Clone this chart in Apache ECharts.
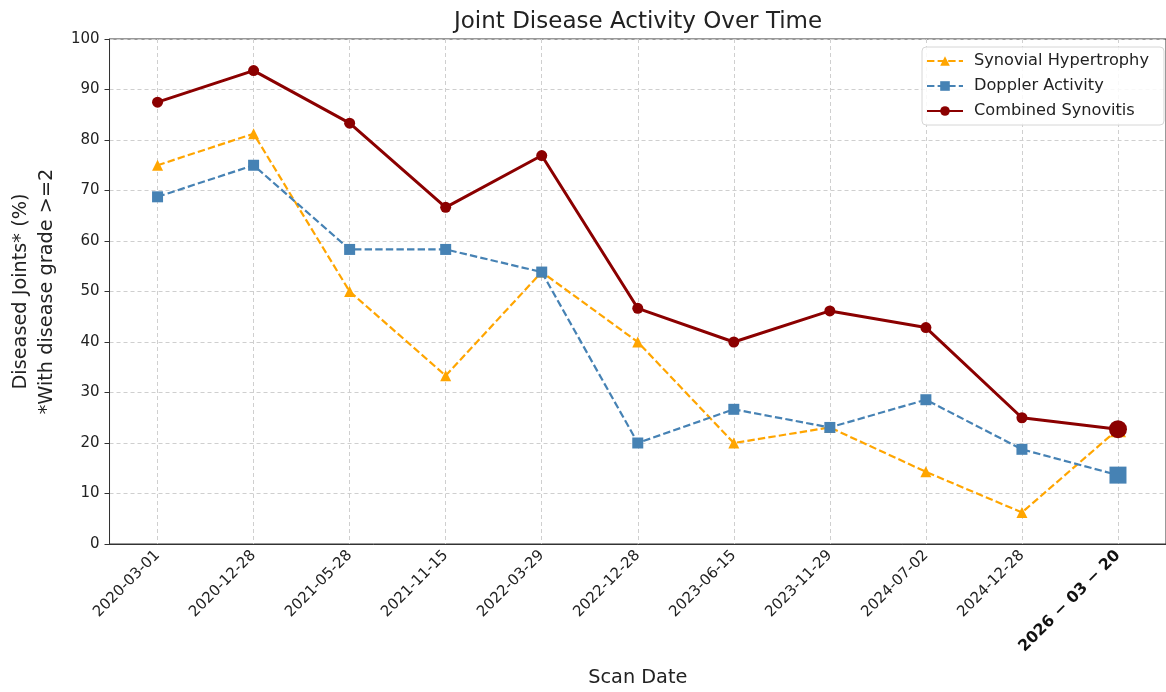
<!DOCTYPE html>
<html><head><meta charset="utf-8">
<script src="https://cdn.jsdelivr.net/npm/echarts@6/dist/echarts.min.js"></script>
<style>html,body{margin:0;padding:0;background:#fff}#c{width:1166px;height:692px}</style>
</head><body><div id="c"></div>
<script>
const categories = ['2020-03-01','2020-12-28','2021-05-28','2021-11-15','2022-03-29','2022-12-28','2023-06-15','2023-11-29','2024-07-02','2024-12-28','2026 − 03 − 20'];
const synovial = [75, 81.25, 50, 33.33, 53.85, 40, 20, 23.08, 14.29, 6.25, 22.73];
const doppler = [68.75, 75, 58.33, 58.33, 53.85, 20, 26.67, 23.08, 28.57, 18.75, 13.64];
const combined = [87.5, 93.75, 83.33, 66.67, 76.92, 46.67, 40, 46.15, 42.86, 25, 22.73];
const yTicks = [0,10,20,30,40,50,60,70,80,90,100];

const FONT = 'DejaVu Sans';
function withLast(arr, size) {
  return arr.map((v, i) => i === arr.length - 1 ? {value: v, symbolSize: size} : v);
}
const chart = echarts.init(document.getElementById('c'), null, {renderer: 'canvas'});
const last = categories.length - 1;
const gridLine = {color: '#cfcfcf', type: [4, 3], width: 1};
chart.setOption({
  animation: false,
  textStyle: {fontFamily: FONT},
  title: {
    text: 'Joint Disease Activity Over Time', left: 449, top: 6,
    textStyle: {fontFamily: FONT, fontSize: 23, fontWeight: 'normal', color: '#222'}
  },
  grid: {left: 108, top: 39, width: 1060, height: 506, show: true, borderColor: '#333', borderWidth: 1, containLabel: false},
  legend: {
    orient: 'vertical', left: 922, top: 47,
    backgroundColor: 'rgba(255,255,255,0.85)',
    borderColor: '#d6d6d6', borderWidth: 1, borderRadius: 4,
    padding: [6, 15, 6, 4], itemGap: 9, itemWidth: 36, itemHeight: 12,
    textStyle: {fontFamily: FONT, fontSize: 16.2, color: '#222', padding: [0, 0, 0, 6]},
    data: ['Synovial Hypertrophy', 'Doppler Activity', 'Combined Synovitis']
  },
  xAxis: {
    type: 'category', data: categories, boundaryGap: true,
    name: 'Scan Date', nameLocation: 'middle', nameGap: 124,
    nameTextStyle: {fontFamily: FONT, fontSize: 19.3, color: '#222'},
    axisLine: {lineStyle: {color: '#333', width: 1}},
    axisTick: {alignWithLabel: true, length: 5, lineStyle: {color: '#333'}},
    axisLabel: {
      rotate: 45, fontFamily: FONT, fontSize: 15, color: '#222', margin: 9, interval: 0,
      formatter: (v, i) => i === last ? '{b|' + v + '}' : v,
      rich: {b: {fontWeight: 'bold', fontFamily: FONT, fontSize: 15.8, color: '#111'}}
    },
    splitLine: {show: true, interval: 0, alignWithLabel: true, lineStyle: gridLine}
  },
  yAxis: {
    type: 'value', min: yTicks[0], max: yTicks[yTicks.length - 1], interval: 10,
    name: 'Diseased Joints* (%)\n*With disease grade >=2', nameLocation: 'middle', nameGap: 49,
    nameTextStyle: {fontFamily: FONT, fontSize: 19.3, color: '#222', lineHeight: 26},
    axisLine: {show: true, lineStyle: {color: '#333', width: 1}},
    axisTick: {show: true, length: 5, lineStyle: {color: '#333'}},
    axisLabel: {fontFamily: FONT, fontSize: 15, color: '#222', margin: 10},
    splitLine: {show: true, lineStyle: gridLine}
  },
  series: [
    {
      name: 'Synovial Hypertrophy', type: 'line', data: withLast(synovial, 16),
      symbol: 'triangle', symbolSize: 11,
      itemStyle: {color: '#FFA500'},
      lineStyle: {color: '#FFA500', width: 2.2, type: [7.4, 3.2]}, z: 3
    },
    {
      name: 'Doppler Activity', type: 'line', data: withLast(doppler, 17),
      symbol: 'rect', symbolSize: 11,
      itemStyle: {color: '#4682B4'},
      lineStyle: {color: '#4682B4', width: 2.2, type: [7.4, 3.2]}, z: 4
    },
    {
      name: 'Combined Synovitis', type: 'line', data: withLast(combined, 18),
      symbol: 'circle', symbolSize: 11,
      itemStyle: {color: '#8B0000'},
      lineStyle: {color: '#8B0000', width: 3, type: 'solid'}, z: 5
    }
  ]
});
</script></body></html>
